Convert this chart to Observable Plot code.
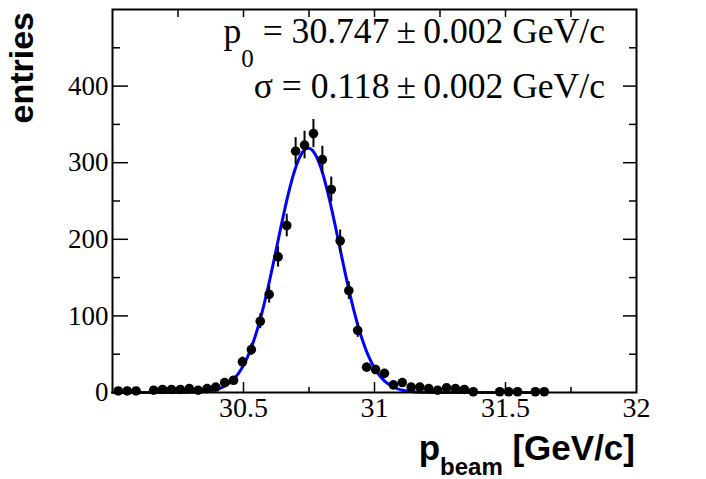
<!DOCTYPE html>
<html>
<head>
<meta charset="utf-8">
<script src="https://cdn.jsdelivr.net/npm/d3@7"></script>
<script src="https://cdn.jsdelivr.net/npm/@observablehq/plot@0.6"></script>
<style>
  html, body { margin: 0; padding: 0; background: #fff; }
  #chart svg { display: block; }
</style>
</head>
<body>
<div id="chart"></div>
<script>
// ---- data (bin centres in GeV/c, entries per bin) ----
const binCenters = [30.022, 30.056, 30.090, 30.157, 30.191, 30.225, 30.259, 30.293, 30.327, 30.361,
  30.394, 30.428, 30.462, 30.496, 30.530, 30.564, 30.598, 30.632, 30.665, 30.699,
  30.733, 30.767, 30.801, 30.835, 30.869, 30.902, 30.936, 30.970, 31.004, 31.038,
  31.072, 31.106, 31.140, 31.173, 31.207, 31.241, 31.275, 31.309, 31.343, 31.377,
  31.478, 31.512, 31.546, 31.614, 31.648];
const entries = [2, 2, 2, 3, 4, 4, 4, 5, 3, 5,
  7, 13, 16, 40, 56, 93, 128, 177, 218, 315,
  323, 338, 304, 265, 198, 133, 81, 33, 30, 25,
  10, 13, 7, 7, 5, 3, 6, 5, 4, 1,
  1, 1, 1, 1, 1];

// Gaussian fit parameters (as displayed)
const fitMean = 30.747;
const fitSigma = 0.118;
const fitAmp = 319;
const fitRange = [30.0, 31.6];

// axis ticks
const xLabelTicks = [30.5, 31, 31.5, 32];
const xMajorTicks = [30.5, 31, 31.5];
const xMinorTicks = [30.25, 30.75, 31.25, 31.75];
const yLabelTicks = [0, 100, 200, 300, 400];
const yMajorTicks = [100, 200, 300, 400];
const yMinorTicks = [50, 150, 250, 350, 450];

// ---- build tables ----
const points = binCenters.map((x, i) => ({x, n: entries[i], err: Math.sqrt(entries[i])}));
const gauss = x => fitAmp * Math.exp(-0.5 * ((x - fitMean) / fitSigma) ** 2);
const curve = d3.range(fitRange[0], fitRange[1] + 1e-9, 0.004).map(x => ({x, y: gauss(x)}));

const serif = "'Liberation Serif', 'Times New Roman', serif";
const sans = "'Liberation Sans', Arial, Helvetica, sans-serif";

const plot = Plot.plot({
  width: 706,
  height: 479,
  marginLeft: 112,
  marginRight: 70,
  marginTop: 9,
  marginBottom: 87,
  x: {domain: [30, 32]},
  y: {domain: [0, 500]},
  style: {background: "white", color: "black", fontFamily: serif},
  marks: [
    // inward ticks: left
    Plot.axisY({anchor: "left", ticks: yMajorTicks, tickSize: 16, dx: 16, text: null, label: null, strokeWidth: 1.5}),
    Plot.axisY({anchor: "left", ticks: yMinorTicks, tickSize: 8, dx: 8, text: null, label: null, strokeWidth: 1.5}),
    // right
    Plot.axisY({anchor: "right", ticks: yMajorTicks, tickSize: 14, dx: -14, text: null, label: null, strokeWidth: 1.5}),
    Plot.axisY({anchor: "right", ticks: yMinorTicks, tickSize: 8, dx: -8, text: null, label: null, strokeWidth: 1.5}),
    // bottom
    Plot.axisX({anchor: "bottom", ticks: xMajorTicks, tickSize: 10, dy: -10, text: null, label: null, strokeWidth: 1.5}),
    Plot.axisX({anchor: "bottom", ticks: xMinorTicks, tickSize: 5, dy: -5, text: null, label: null, strokeWidth: 1.5}),
    // top
    Plot.axisX({anchor: "top", ticks: xMajorTicks, tickSize: 7, dy: 7, text: null, label: null, strokeWidth: 1.5}),
    Plot.axisX({anchor: "top", ticks: xMinorTicks, tickSize: 7, dy: 7, text: null, label: null, strokeWidth: 1.5}),
    // tick labels
    Plot.axisY({anchor: "left", ticks: yLabelTicks, tickSize: 0, tickPadding: 4, label: null,
      tickFormat: d => String(d), fontSize: 27, fontFamily: serif, fill: "black"}),
    Plot.axisX({anchor: "bottom", ticks: xLabelTicks, tickSize: 0, tickPadding: 5, label: null,
      tickFormat: d => String(d), fontSize: 28, fontFamily: serif, fill: "black"}),
    // data
    Plot.line(curve, {x: "x", y: "y", stroke: "#0000ff", strokeWidth: 3}),
    Plot.ruleX(points, {x: "x", y1: d => d.n - d.err, y2: d => d.n + d.err, stroke: "black", strokeWidth: 2}),
    Plot.dot(points, {x: "x", y: "n", r: 4.8, fill: "black", stroke: "none"}),
    Plot.frame({stroke: "black", strokeWidth: 2})
  ]
});

document.getElementById("chart").appendChild(plot);

// ---- text annotations (ROOT-style) ----
const svg = d3.select(plot);

// fit results
const t1 = svg.append("text")
  .attr("x", 605).attr("y", 43)
  .attr("text-anchor", "end")
  .attr("font-family", serif).attr("font-size", 35.6).attr("fill", "black");
t1.append("tspan").text("p");
t1.append("tspan").attr("font-size", 25).attr("dy", 24).text("0");
t1.append("tspan").attr("dy", -24).text(" = 30.747\u2009\u00b1\u20090.002 GeV/c");

svg.append("text")
  .attr("x", 605).attr("y", 98)
  .attr("text-anchor", "end")
  .attr("font-family", serif).attr("font-size", 35.6).attr("fill", "black")
  .text("\u03c3 = 0.118\u2009\u00b1\u20090.002 GeV/c");

// y title
svg.append("text")
  .attr("transform", "translate(33,12) rotate(-90)")
  .attr("text-anchor", "end")
  .attr("font-family", sans).attr("font-weight", "bold").attr("font-size", 34).attr("fill", "black")
  .text("entries");

// x title
const xt = svg.append("text")
  .attr("x", 635).attr("y", 460)
  .attr("text-anchor", "end")
  .attr("font-family", sans).attr("font-weight", "bold").attr("font-size", 35).attr("fill", "black");
xt.append("tspan").text("p");
xt.append("tspan").attr("font-size", 24).attr("dy", 15).text("beam");
xt.append("tspan").attr("dy", -15).text(" [GeV/c]");
</script>
</body>
</html>
